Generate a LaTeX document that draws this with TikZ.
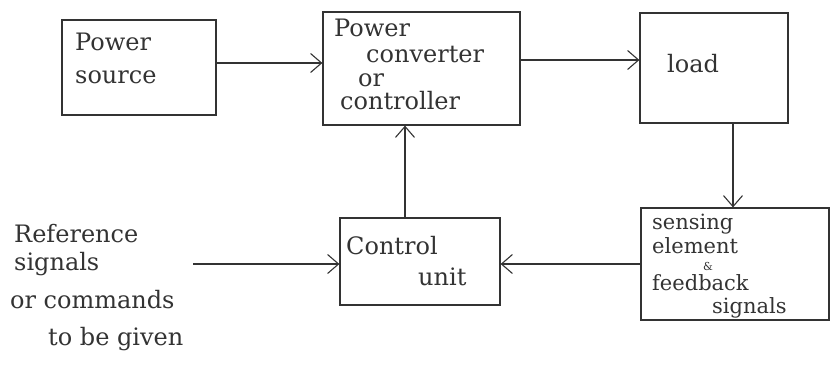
\documentclass[tikz,border=0pt]{standalone}
\usepackage{fontspec}
\setmainfont{DejaVu Serif}
\usetikzlibrary{arrows.meta}
\definecolor{ink}{HTML}{333333}
\begin{document}
\begin{tikzpicture}[x=1pt,y=-1pt,
  box/.style={draw=ink,line width=1.2pt,inner sep=0pt},
  lbl/.style={anchor=base west,inner sep=0pt,text=ink,font=\fontsize{24}{27}\selectfont},
  slbl/.style={lbl,font=\fontsize{21}{24}\selectfont},
  arr/.style={draw=ink,line width=1.1pt,-{Straight Barb[length=11pt,width=19pt,line width=1.1pt]}}]
\useasboundingbox (0,0) rectangle (833,375);
% boxes
\node[box,minimum width=154pt,minimum height=95pt] (ps) at (139,67.5) {};
\node[box,minimum width=197pt,minimum height=113pt] (conv) at (421.5,68.5) {};
\node[box,minimum width=148pt,minimum height=110pt] (load) at (714,68) {};
\node[box,minimum width=188pt,minimum height=112pt] (sens) at (735,264) {};
\node[box,minimum width=160pt,minimum height=87pt] (ctrl) at (420,261.5) {};
% texts
\node[lbl] (t1) at (75,50) {Power};
\node[lbl] (t2) at (75,83) {source};
\node[lbl] (t3) at (334,36) {Power};
\node[lbl] (t4) at (366,62) {converter};
\node[lbl] (t5) at (358,86) {or};
\node[lbl] (t6) at (340,109) {controller};
\node[lbl] (t7) at (667,72) {load};
\node[lbl] (t8) at (346,254) {Control};
\node[lbl] (t9) at (418,285) {unit};
\node[slbl] (t10) at (652,229) {sensing};
\node[slbl] (t11) at (652,253) {element};
\node[lbl,font=\fontsize{11}{13}\selectfont] (t12) at (703,270) {\&};
\node[slbl] (t13) at (652,290) {feedback};
\node[slbl] (t14) at (712,313) {signals};
\node[lbl] (r1) at (14,242) {Reference};
\node[lbl] (r2) at (14,270) {signals};
\node[lbl] (r3) at (10,308) {or commands};
\node[lbl] (r4) at (48,345) {to be given};
% connectors
\coordinate (rs) at (193,264);
\draw[arr] ([yshift=4.5pt]ps.east) -- ([yshift=4.5pt]ps.east -| conv.west);
\draw[arr] ([yshift=8.5pt]conv.east) -- ([yshift=8.5pt]conv.east -| load.west);
\draw[arr] ([xshift=19pt]load.south) -- ([xshift=19pt]load.south |- sens.north);
\draw[arr] (sens.west) -- (sens.west -| ctrl.east);
\draw[arr] ([xshift=-15pt]ctrl.north) -- ([xshift=-15pt]ctrl.north |- conv.south);
\draw[arr] (rs) -- (rs -| ctrl.west);
\end{tikzpicture}
\end{document}
